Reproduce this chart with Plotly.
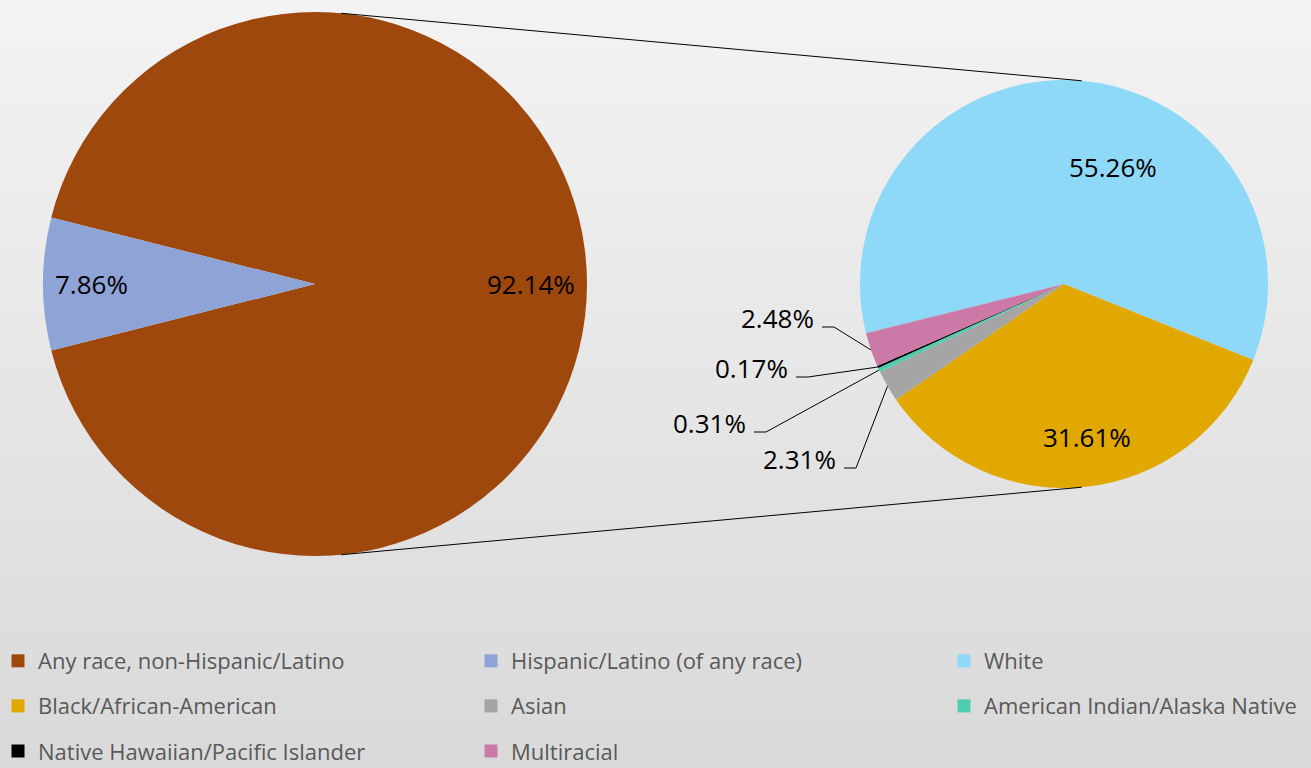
import math
import plotly.graph_objects as go

W, H = 1311, 768

# Ethnicity split (share of total population, %)
main_labels = ["Any race, non-Hispanic/Latino", "Hispanic/Latino (of any race)"]
main_values = [92.14, 7.86]
main_colors = ["#9E480E", "#8EA3D6"]

# Race breakdown of the non-Hispanic/Latino share (share of total population, %)
sub_labels = ["White", "Black/African-American", "Asian",
              "American Indian/Alaska Native", "Native Hawaiian/Pacific Islander",
              "Multiracial"]
sub_values = [55.26, 31.61, 2.31, 0.31, 0.17, 2.48]
sub_colors = ["#8ED8F8", "#E0A800", "#A5A5A5", "#4FCDB1", "#000000", "#CC79A7"]

# Legend columns (row-major reading order across three columns)
legend_columns = [
    ["Any race, non-Hispanic/Latino", "Black/African-American", "Native Hawaiian/Pacific Islander"],
    ["Hispanic/Latino (of any race)", "Asian", "Multiracial"],
    ["White", "American Indian/Alaska Native"],
]

# ---- geometry (pixels) ----
MAIN_C, MAIN_R = (315.0, 284.0), 272.0
SUB_C, SUB_R = (1064.0, 284.0), 204.0
SUB_START = 256.0          # compass angle where the first sub slice begins
LABEL_FONT = dict(family="Open Sans", size=26, color="#000000")
LEG_FONT = dict(family="Open Sans", size=22, color="#595959")


def px(x, y):
    return x / W, 1 - y / H


def domain(c, r):
    return dict(x=[(c[0] - r) / W, (c[0] + r) / W],
                y=[1 - (c[1] + r) / H, 1 - (c[1] - r) / H])


def wrap(a):
    return ((a + 180) % 360) - 180


def spans(values, start):
    tot = sum(values)
    out, a = [], start
    for v in values:
        s = 360 * v / tot
        out.append((a, a + s))
        a += s
    return out


def on_circle(c, r, ang):
    t = math.radians(ang)
    return c[0] + r * math.sin(t), c[1] - r * math.cos(t)


# main pie: Hispanic slice centred on the left (west)
tot_main = sum(main_values)
main_start = 270 - 360 * (main_values[0] + main_values[1] / 2) / tot_main
main_spans = spans(main_values, main_start)
sub_spans = spans(sub_values, SUB_START)

fig = go.Figure()

fig.add_trace(go.Pie(
    labels=main_labels, values=main_values, sort=False, direction="clockwise",
    rotation=wrap(main_start), marker=dict(colors=main_colors, line=dict(width=0)),
    textinfo="none", hoverinfo="label+percent", showlegend=False,
    domain=domain(MAIN_C, MAIN_R),
))
fig.add_trace(go.Pie(
    labels=sub_labels, values=sub_values, sort=False, direction="clockwise",
    rotation=wrap(SUB_START), marker=dict(colors=sub_colors, line=dict(width=0)),
    textinfo="none", hoverinfo="label+value", showlegend=False,
    domain=domain(SUB_C, SUB_R),
))

# legend entries, one legend per column
color_of = dict(zip(main_labels + sub_labels, main_colors + sub_colors))
col_text_x = [38, 511, 984]
leg_names = ["legend", "legend2", "legend3"]
for ci, col in enumerate(legend_columns):
    for name in col:
        fig.add_trace(go.Scatter(
            x=[None], y=[None], mode="markers", name=name,
            marker=dict(symbol="square", size=13, color=color_of[name]),
            legend=leg_names[ci], legendgroup=name, showlegend=True,
        ))

annotations = []
shapes = []

# background gradient
n_bands = 96
top_c, bot_c = 243, 217
for i in range(n_bands):
    g = round(top_c + (bot_c - top_c) * (i + 0.5) / n_bands)
    y_top = 1 - i / n_bands
    y_bot = 1 - (i + 1) / n_bands
    shapes.append(dict(type="rect", xref="paper", yref="paper", x0=0, x1=1,
                       y0=y_bot - 0.002, y1=y_top, layer="below", line=dict(width=0),
                       fillcolor=f"rgb({g},{g},{g})"))

# connector lines between the two pies
for a_main, a_sub in ((5.5, 5.0), (174.5, 175.0)):
    x0, y0 = px(*on_circle(MAIN_C, MAIN_R, a_main))
    x1, y1 = px(*on_circle(SUB_C, SUB_R, a_sub))
    shapes.append(dict(type="line", xref="paper", yref="paper", x0=x0, y0=y0,
                       x1=x1, y1=y1, line=dict(color="#000000", width=1)))

# main pie labels, inside end
for v, (a0, a1) in zip(main_values, main_spans):
    mid = (a0 + a1) / 2
    ex, ey = on_circle(MAIN_C, MAIN_R - 10, mid)
    xa = "left" if math.sin(math.radians(mid)) < 0 else "right"
    x, y = px(ex, ey)
    annotations.append(dict(x=x, y=y, xref="paper", yref="paper", text=f"{v:.2f}%",
                            showarrow=False, xanchor=xa, yanchor="middle", font=LABEL_FONT))

# sub pie: large slices labelled inside
inside_pos = {0: (1113, 167), 1: (1087, 437)}
for i, (x_, y_) in inside_pos.items():
    x, y = px(x_, y_)
    annotations.append(dict(x=x, y=y, xref="paper", yref="paper", text=f"{sub_values[i]:.2f}%",
                            showarrow=False, xanchor="center", yanchor="middle", font=LABEL_FONT))

# sub pie: small slices labelled outside with leader lines
# (text right edge, baseline)
outside_pos = {5: (816, 327), 4: (790, 377), 3: (748, 432), 2: (838, 468)}
for i, (xr, yb) in outside_pos.items():
    x, y = px(xr, yb - 9)
    annotations.append(dict(x=x, y=y, xref="paper", yref="paper", text=f"{sub_values[i]:.2f}%",
                            showarrow=False, xanchor="right", yanchor="middle", font=LABEL_FONT))
    a0, a1 = sub_spans[i]
    ex, ey = on_circle(SUB_C, SUB_R, (a0 + a1) / 2)
    sx, kx = xr + 6, xr + 18
    path_pts = [px(sx, yb), px(kx, yb), px(ex, ey)]
    path = "M " + " L ".join(f"{p[0]},{p[1]}" for p in path_pts)
    shapes.append(dict(type="path", xref="paper", yref="paper", path=path,
                       line=dict(color="#000000", width=1)))

legend_common = dict(font=LEG_FONT, bgcolor="rgba(0,0,0,0)", borderwidth=0,
                     orientation="v", xanchor="left", yanchor="top",
                     itemwidth=30, tracegroupgap=13.5, traceorder="grouped",
                     itemclick=False, itemdoubleclick=False)
legend_top = 640
layout_legends = {}
for ci, ln in enumerate(leg_names):
    layout_legends[ln] = dict(legend_common, x=(col_text_x[ci] - 40) / W, y=1 - legend_top / H)

fig.update_layout(
    width=W, height=H, margin=dict(l=0, r=0, t=0, b=0, autoexpand=False),
    paper_bgcolor="#E4E4E4", plot_bgcolor="rgba(0,0,0,0)",
    xaxis=dict(visible=False), yaxis=dict(visible=False),
    shapes=shapes, annotations=annotations, showlegend=True,
    **layout_legends,
)

fig.write_html("out.html")
